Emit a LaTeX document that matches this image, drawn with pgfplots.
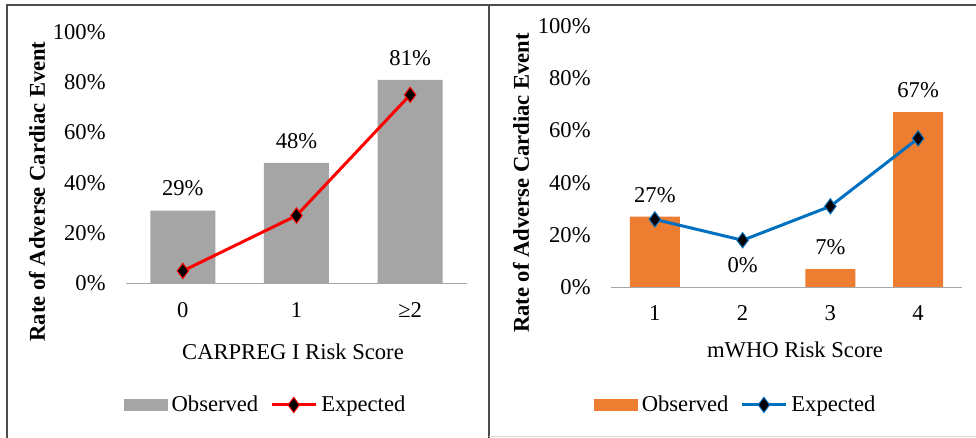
\documentclass[border=0pt,11pt]{standalone}
\usepackage{fontspec}
\setmainfont{Liberation Serif}
\usepackage{pgfplots}
\pgfplotsset{compat=1.18}

\definecolor{obsgray}{HTML}{A5A5A5}
\definecolor{expred}{HTML}{FF0000}
\definecolor{obsorange}{HTML}{ED7D31}
\definecolor{expblue}{HTML}{0070C0}
\definecolor{axisgray}{HTML}{A6A6A6}

\newcommand\chartfont{\fontsize{11.3}{13.6}\selectfont}

\pgfplotsset{
  riskpanel/.style={
    scale only axis,
    anchor=south west,
    clip=false,
    font=\chartfont,
    ymin=0, ymax=100,
    ytick={0,20,40,60,80,100},
    yticklabels={0\%,20\%,40\%,60\%,80\%,100\%},
    /pgf/number format/assume math mode=true,
    axis line style={draw=none},
    major tick length=0pt,
    tick label style={font=\chartfont},
    yticklabel style={anchor=east, inner sep=0pt, xshift=-10pt},
    xticklabel style={anchor=base, inner sep=0pt, yshift=-17pt},
    legend columns=2,
    legend style={draw=none, fill=none, inner sep=0pt, anchor=center,
      font=\chartfont, nodes={inner sep=2pt},
      /tikz/every even column/.append style={column sep=4pt}},
  },
  barleg/.style={legend image code/.code={\fill[##1] (0pt,-3pt) rectangle (22pt,3pt);}},
  lineleg/.style={legend image code/.code={%
    \draw[##1, mark repeat=2, mark phase=2] plot coordinates {(0pt,0pt) (11pt,0pt) (22pt,0pt)};}},
  barlabels/.style={
    nodes near coords={\pgfmathprintnumber{\pgfplotspointmeta}\%},
    every node near coord/.append style={anchor=south, inner sep=0pt, yshift=7pt, text=black, font=\chartfont},
  },
}

\begin{document}
\chartfont
\begin{tikzpicture}
\path[use as bounding box] (0pt,0pt) rectangle (488pt,219pt);

% frame
\draw[black!70, line width=0.6pt] (3.5pt,0pt) -- (3.5pt,216.5pt) -- (488pt,216.5pt);
\draw[black!70, line width=0.6pt] (244.5pt,0pt) -- (244.5pt,216.5pt);
\draw[black!15, line width=0.5pt] (244.5pt,0.5pt) -- (488pt,0.5pt);

% CARPREG I panel
\begin{axis}[riskpanel,
    at={(63pt,77.25pt)}, width=170.5pt, height=125.75pt,
    xmin=-0.5, xmax=2.5,
    xtick={0,1,2}, xticklabels={0,1,≥2},
    legend style={at={(0.412,-0.483)}}]
  \addplot[ybar, bar width=32.5pt, fill=obsgray, draw=none, barleg, barlabels]
    coordinates {(0,29) (1,48) (2,81)};
  \addlegendentry{Observed}
  \addplot[expred, line width=1.5pt, mark=diamond*, mark size=3.8pt,
    mark options={fill=black, draw=expred, line width=0.5pt}, lineleg]
    coordinates {(0,5) (1,27) (2,75)};
  \addlegendentry{Expected}
  \draw[axisgray, line width=0.6pt] (rel axis cs:0,0) -- (rel axis cs:1,0);
\end{axis}
\node[rotate=90, font=\chartfont\bfseries] at (18.5pt,123.25pt) {Rate of Adverse Cardiac Event};
\node[anchor=base] at (146.5pt,39.25pt) {CARPREG I Risk Score};

% mWHO panel
\begin{axis}[riskpanel,
    at={(305.5pt,75.35pt)}, width=175.5pt, height=130.65pt,
    xmin=0.5, xmax=4.5,
    xtick={1,2,3,4}, xticklabels={1,2,3,4},
    xticklabel style={yshift=0.5pt},
    legend style={at={(0.358,-0.45)}}]
  \addplot[ybar, bar width=25pt, fill=obsorange, draw=none, barleg, barlabels]
    coordinates {(1,27) (2,0) (3,7) (4,67)};
  \addlegendentry{Observed}
  \addplot[expblue, line width=1.5pt, mark=diamond*, mark size=3.8pt,
    mark options={fill=black, draw=expblue, line width=0.5pt}, lineleg]
    coordinates {(1,26) (2,18) (3,31) (4,57)};
  \addlegendentry{Expected}
  \draw[axisgray, line width=0.6pt] (rel axis cs:0,0) -- (rel axis cs:1,0);
\end{axis}
\node[rotate=90, font=\chartfont\bfseries] at (260.5pt,127.5pt) {Rate of Adverse Cardiac Event};
\node[anchor=base] at (397.5pt,40.25pt) {mWHO Risk Score};
\end{tikzpicture}
\end{document}
